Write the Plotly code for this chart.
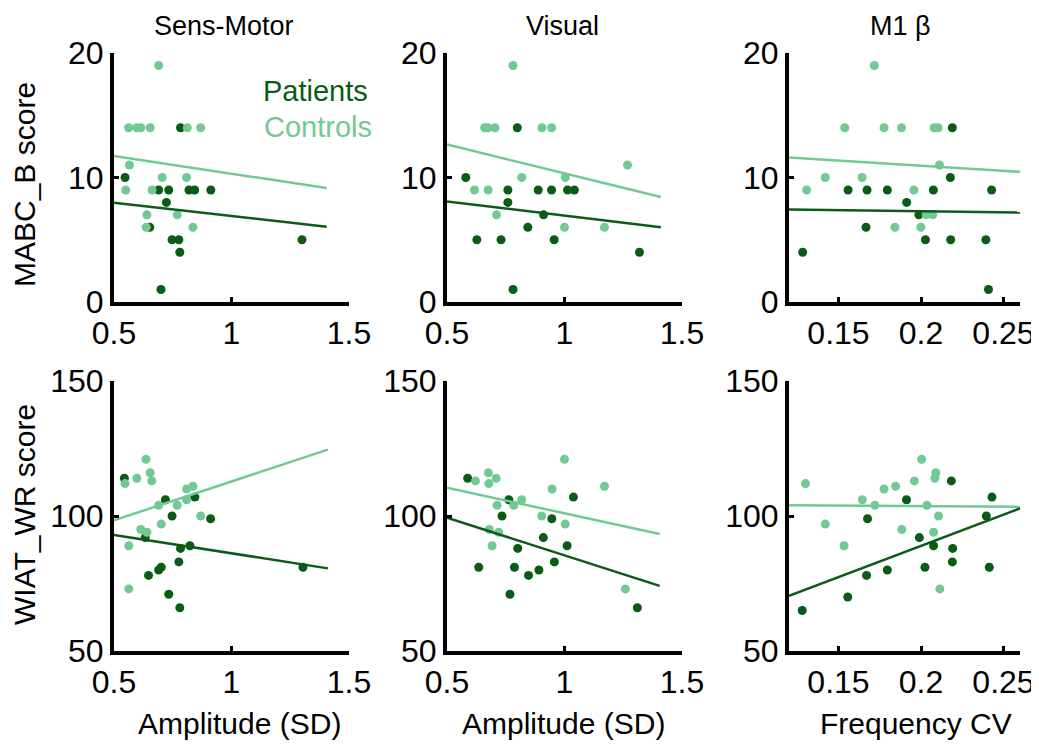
import plotly.graph_objects as go

# the page body has an 8px margin; figure sized to fit the 1039x745 window
OFF = 8
W, H = 1039 - OFF, 745 - OFF
DARK = "#0b5b16"
LIGHT = "#72c994"

# ---------------- data ----------------
col_titles = ["Sens-Motor", "Visual", "M1 β"]
row_titles = ["MABC_B score", "WIAT_WR score"]
x_titles = ["Amplitude (SD)", "Amplitude (SD)", "Frequency CV"]
legend_labels = ["Patients", "Controls"]

amp_ticks = [0.5, 1, 1.5]
amp_tick_text = ["0.5", "1", "1.5"]
cv_ticks = [0.15, 0.2, 0.25]
cv_tick_text = ["0.15", "0.2", "0.25"]
mabc_ticks = [0, 10, 20]
wiat_ticks = [50, 100, 150]

# Panel 1: Sens-Motor amplitude vs MABC_B
p1_ctrl_x = [0.69, 0.562, 0.597, 0.614, 0.654, 0.812, 0.869, 0.566, 0.55, 0.705, 0.809, 0.662, 0.640, 0.769, 0.637, 0.836]
p1_ctrl_y = [19, 14, 14, 14, 14, 14, 14, 11, 9, 10, 10, 9, 7, 7, 6, 6]
p1_pat_x = [0.783, 0.547, 0.69, 0.733, 0.819, 0.843, 0.912, 0.723, 0.652, 0.747, 0.776, 0.78, 0.70, 1.30]
p1_pat_y = [14, 10, 9, 9, 9, 9, 9, 8, 6, 5, 5, 4, 1, 5]
p1_fit_x = [0.5, 1.405]
p1_fit_ctrl = [11.73, 9.15]
p1_fit_pat = [7.97, 6.05]

# Panel 2: Visual amplitude vs MABC_B
p2_ctrl_x = [0.781, 0.660, 0.675, 0.704, 0.904, 0.945, 1.268, 0.818, 1.003, 0.617, 0.675, 0.711, 1.0, 1.17]
p2_ctrl_y = [19, 14, 14, 14, 14, 14, 11, 10, 10, 9, 9, 7, 6, 6]
p2_pat_x = [0.799, 0.580, 0.759, 0.888, 0.945, 1.013, 1.042, 0.759, 0.911, 0.844, 0.627, 0.730, 0.956, 1.319, 0.781]
p2_pat_y = [14, 10, 9, 9, 9, 9, 9, 8, 7, 6, 5, 5, 5, 4, 1]
p2_fit_x = [0.5, 1.41]
p2_fit_ctrl = [12.65, 8.43]
p2_fit_pat = [8.08, 6.0]

# Panel 3: M1 beta frequency CV vs MABC_B
p3_ctrl_x = [0.1717, 0.1538, 0.1776, 0.1882, 0.208, 0.2104, 0.2112, 0.142, 0.1643, 0.1307, 0.1957, 0.2031, 0.2071, 0.1842, 0.1999]
p3_ctrl_y = [19, 14, 14, 14, 14, 14, 11, 10, 10, 9, 9, 7, 7, 6, 6]
p3_pat_x = [0.219, 0.2178, 0.1558, 0.1673, 0.1796, 0.2075, 0.2428, 0.1913, 0.1987, 0.1667, 0.2027, 0.218, 0.2393, 0.1283, 0.2409]
p3_pat_y = [14, 10, 9, 9, 9, 9, 9, 8, 7, 6, 5, 5, 5, 4, 1]
p3_fit_x = [0.12, 0.26]
p3_fit_ctrl = [11.61, 10.46]
p3_fit_pat = [7.42, 7.18]

# Panel 4: Sens-Motor amplitude vs WIAT_WR
p4_ctrl_x = [0.636, 0.547, 0.597, 0.654, 0.661, 0.809, 0.836, 0.69, 0.769, 0.809, 0.869, 0.701, 0.614, 0.64, 0.563, 0.563]
p4_ctrl_y = [121, 112, 114, 116, 113, 110, 111, 104, 104, 106, 100, 97, 95, 94, 89, 73]
p4_pat_x = [0.544, 0.719, 0.844, 0.747, 0.911, 0.633, 0.783, 0.823, 0.776, 0.647, 0.69, 0.701, 0.733, 0.78, 1.304]
p4_pat_y = [114, 106, 107, 100, 99, 92, 88, 89, 83, 78, 80, 81, 71, 66, 81]
p4_fit_x = [0.5, 1.41]
p4_fit_ctrl = [98.4, 124.6]
p4_fit_pat = [93.0, 80.6]

# Panel 5: Visual amplitude vs WIAT_WR
p5_ctrl_x = [1.0, 0.621, 0.676, 0.709, 0.678, 0.947, 1.17, 0.818, 0.784, 0.713, 0.903, 1.003, 0.68, 0.72, 0.692, 1.259]
p5_ctrl_y = [121, 113, 116, 114, 112, 110, 111, 106, 104, 104, 100, 97, 95, 94, 89, 73]
p5_pat_x = [0.588, 0.763, 1.038, 0.734, 0.946, 0.91, 1.011, 0.801, 0.635, 0.787, 0.957, 0.847, 0.891, 0.768, 1.31]
p5_pat_y = [114, 106, 107, 100, 99, 92, 89, 88, 81, 81, 83, 78, 80, 71, 66]
p5_fit_x = [0.5, 1.405]
p5_fit_ctrl = [110.5, 93.3]
p5_fit_pat = [99.4, 74.1]

# Panel 6: M1 beta frequency CV vs WIAT_WR
p6_ctrl_x = [0.13, 0.142, 0.1534, 0.1644, 0.172, 0.1776, 0.1846, 0.1884, 0.196, 0.2004, 0.2036, 0.209, 0.2084, 0.2106, 0.2076, 0.2114]
p6_ctrl_y = [112, 97, 89, 106, 104, 110, 111, 95, 113, 121, 104, 116, 114, 100, 94, 73]
p6_pat_x = [0.128, 0.1556, 0.167, 0.1676, 0.1796, 0.1912, 0.199, 0.2024, 0.2076, 0.2184, 0.2192, 0.219, 0.2396, 0.243, 0.2414]
p6_pat_y = [65, 70, 78, 99, 80, 106, 92, 81, 89, 113, 88, 83, 100, 107, 81]
p6_fit_x = [0.12, 0.26]
p6_fit_ctrl = [104.0, 103.4]
p6_fit_pat = [70.4, 102.8]

panels = [
    (p1_ctrl_x, p1_ctrl_y, p1_pat_x, p1_pat_y, p1_fit_x, p1_fit_ctrl, p1_fit_pat),
    (p2_ctrl_x, p2_ctrl_y, p2_pat_x, p2_pat_y, p2_fit_x, p2_fit_ctrl, p2_fit_pat),
    (p3_ctrl_x, p3_ctrl_y, p3_pat_x, p3_pat_y, p3_fit_x, p3_fit_ctrl, p3_fit_pat),
    (p4_ctrl_x, p4_ctrl_y, p4_pat_x, p4_pat_y, p4_fit_x, p4_fit_ctrl, p4_fit_pat),
    (p5_ctrl_x, p5_ctrl_y, p5_pat_x, p5_pat_y, p5_fit_x, p5_fit_ctrl, p5_fit_pat),
    (p6_ctrl_x, p6_ctrl_y, p6_pat_x, p6_pat_y, p6_fit_x, p6_fit_ctrl, p6_fit_pat),
]

# ---------------- layout geometry (window pixels) ----------------
col_px = [(114, 349), (447, 682), (789, 1020)]
row_px = [(53, 302), (381, 651)]
x_ranges = [[0.5, 1.5], [0.5, 1.5], [0.12, 0.26]]
y_ranges = [[0, 20], [50, 150]]


def px(x):
    return (x - OFF) / W


def py(y):
    return 1 - (y - OFF) / H


FONT = "Liberation Sans, Arial, sans-serif"

fig = go.Figure()
layout = {}
for i, (cx, cy, px_, py_, fx, fc, fp) in enumerate(panels):
    r, c = divmod(i, 3)
    n = i + 1
    xa = "x" if n == 1 else f"x{n}"
    ya = "y" if n == 1 else f"y{n}"
    fig.add_trace(go.Scatter(x=px_, y=py_, mode="markers", xaxis=xa, yaxis=ya,
                             marker=dict(color=DARK, size=9), showlegend=False))
    fig.add_trace(go.Scatter(x=cx, y=cy, mode="markers", xaxis=xa, yaxis=ya,
                             marker=dict(color=LIGHT, size=9), showlegend=False))
    fig.add_trace(go.Scatter(x=fx, y=fc, mode="lines", xaxis=xa, yaxis=ya,
                             line=dict(color=LIGHT, width=2.5), showlegend=False))
    fig.add_trace(go.Scatter(x=fx, y=fp, mode="lines", xaxis=xa, yaxis=ya,
                             line=dict(color=DARK, width=2.5), showlegend=False))
    x0, x1 = col_px[c]
    y0, y1 = row_px[r]
    if c < 2:
        tv, tt = amp_ticks, amp_tick_text
    else:
        tv, tt = cv_ticks, cv_tick_text
    common = dict(showline=True, linecolor="black", linewidth=4, ticks="inside",
                  ticklen=5, tickwidth=3, tickcolor="black", showgrid=False,
                  zeroline=False, mirror=False, automargin=False,
                  tickfont=dict(family=FONT, size=32, color="black"))
    layout[("xaxis" if n == 1 else f"xaxis{n}")] = dict(
        domain=[px(x0), px(x1)], range=x_ranges[c], anchor=ya,
        tickvals=tv, ticktext=tt, **common)
    layout[("yaxis" if n == 1 else f"yaxis{n}")] = dict(
        domain=[py(y1), py(y0)], range=y_ranges[r], anchor=xa,
        tickvals=mabc_ticks if r == 0 else wiat_ticks, **common)

annotations = []
col_centers = [224, 562, 900]
for c, t in enumerate(col_titles):
    annotations.append(dict(text=t, x=px(col_centers[c]), y=py(26), xref="paper", yref="paper",
                            showarrow=False, xanchor="center", yanchor="middle", borderpad=0,
                            font=dict(family=FONT, size=27, color="black")))
for r, (t, yc) in enumerate(zip(row_titles, [185, 515])):
    annotations.append(dict(text=t, x=px(24), y=py(yc), xref="paper", yref="paper",
                            showarrow=False, xanchor="center", yanchor="middle", textangle=-90,
                            font=dict(family=FONT, size=30, color="black")))
for c, (t, xc) in enumerate(zip(x_titles, [239, 563, 916])):
    annotations.append(dict(text=t, x=px(xc), y=py(723), xref="paper", yref="paper",
                            showarrow=False, xanchor="center", yanchor="middle",
                            font=dict(family=FONT, size=30, color="black")))
annotations.append(dict(text=legend_labels[0], x=px(315), y=py(91), xref="paper", yref="paper",
                        showarrow=False, xanchor="center", yanchor="middle",
                        font=dict(family=FONT, size=29, color=DARK)))
annotations.append(dict(text=legend_labels[1], x=px(318), y=py(127), xref="paper", yref="paper",
                        showarrow=False, xanchor="center", yanchor="middle",
                        font=dict(family=FONT, size=29, color=LIGHT)))

fig.update_layout(width=W, height=H, margin=dict(l=0, r=0, t=0, b=0),
                  paper_bgcolor="white", plot_bgcolor="white",
                  annotations=annotations, **layout)
fig.write_html("out.html")
